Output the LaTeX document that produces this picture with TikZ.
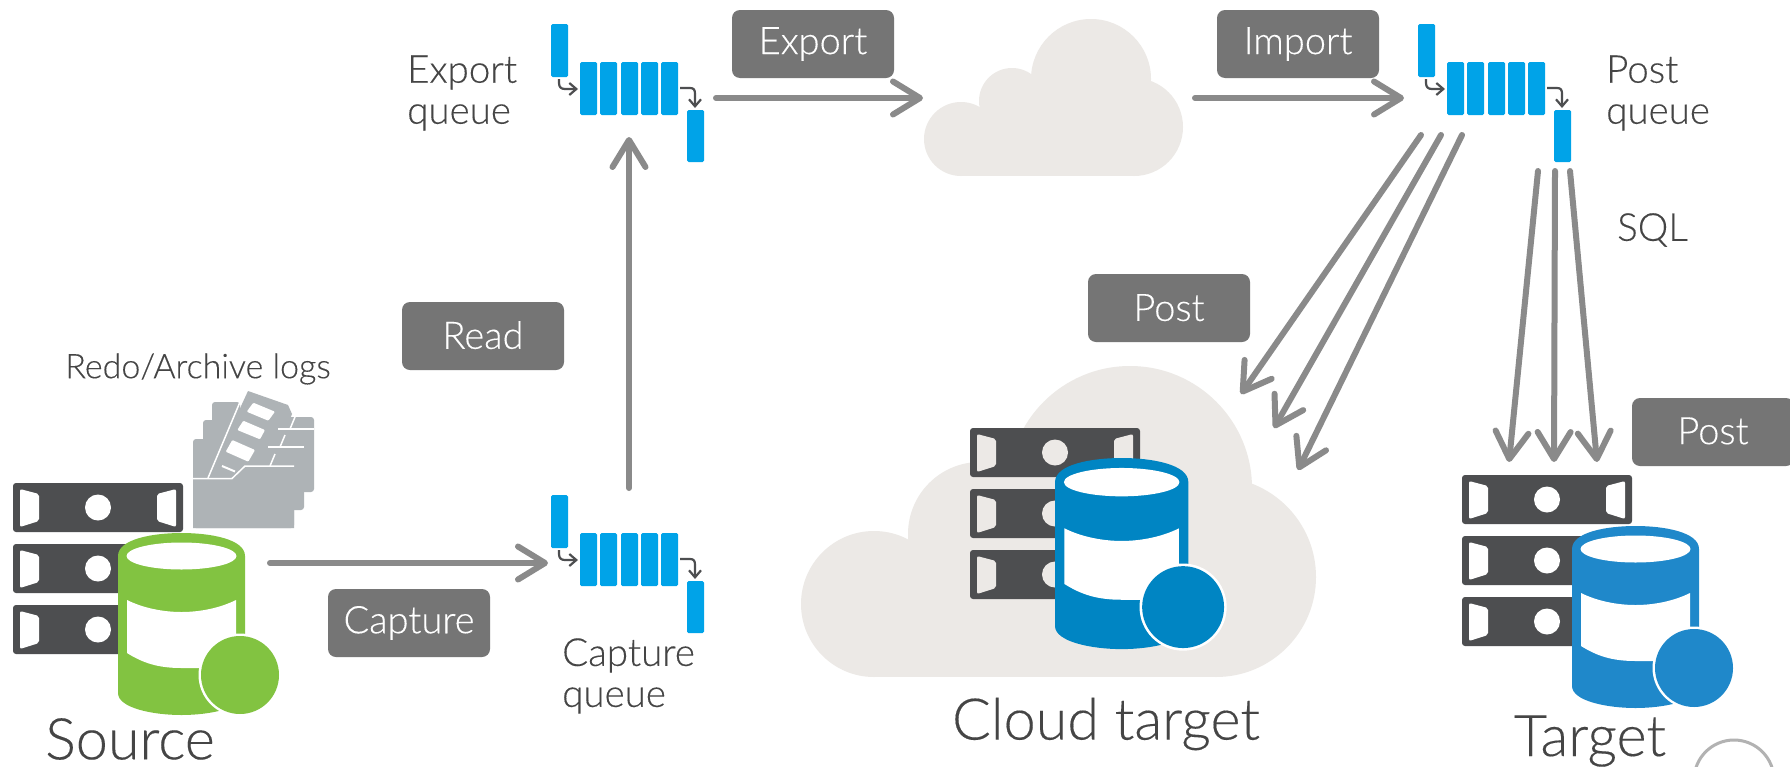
\documentclass[tikz,border=0pt]{standalone}
\usepackage{fontspec}
\setmainfont{Lato}[UprightFont=* Light,UprightFeatures={FakeBold=0.25}]
\usetikzlibrary{arrows.meta}
\definecolor{rackgrey}{HTML}{4D4E50}
\definecolor{flowgrey}{HTML}{8A8A8A}
\definecolor{boxgrey}{HTML}{757575}
\definecolor{cloudc}{HTML}{ECE9E6}
\definecolor{queuec}{HTML}{00A3E8}
\definecolor{folderc}{HTML}{AEB3B6}
\definecolor{srcgreen}{HTML}{82C341}
\definecolor{cldblue}{HTML}{0085C3}
\definecolor{tgtblue}{HTML}{1F88CA}
\definecolor{textc}{HTML}{454545}
\tikzset{
  flow/.style={draw=flowgrey,line width=6pt,line cap=round,-{Straight Barb[length=27pt,width=33pt,round]}},
  tag/.style={fill=boxgrey,text=white,rounded corners=8pt,minimum width=162pt,minimum height=68pt,inner sep=0pt,font=\fontsize{38}{40}\selectfont},
  note/.style={text=textc,inner sep=0pt,font=\fontsize{38.5}{41}\selectfont,align=left,anchor=west},
  big/.style={text=textc,inner sep=0pt,font=\fontsize{57.5}{64}\selectfont},
  qbar/.style={fill=queuec,rounded corners=1.5pt},
  qarrow/.style={draw=rackgrey,line width=2.2pt,-{Straight Barb[length=7pt,width=12pt]}},
  foldline/.style={draw=white,line width=1.5pt}
}
\newcommand\rackicon[3]{%
  \begin{scope}[shift={(#1,#2)}]
    \fill[rackgrey,rounded corners=3pt] (0,0) rectangle (170,49);
    \fill[#3,rounded corners=2pt] (7,6)--(26,11)--(26,38)--(7,44)--cycle;
    \fill[#3,rounded corners=2pt] (163,6)--(144,11)--(144,38)--(163,44)--cycle;
    \fill[#3] (85,24.5) circle[radius=13];
  \end{scope}}
\newcommand\dbicon[4]{%
  \begin{scope}[shift={(#1,#2)},scale=#3]
    \fill[#4] (0,23) .. controls (0,6) and (35,0) .. (63.5,0) .. controls (92,0) and (127,6) .. (127,23)
      -- (127,160) .. controls (127,175) and (92,182) .. (63.5,182) .. controls (35,182) and (0,175) .. (0,160) -- cycle;
    \fill[white] (63.5,23) ellipse[x radius=55,y radius=13.5];
    \fill[white] (9,67) .. controls (25,75) and (45,79) .. (63.5,79) .. controls (82,79) and (102,75) .. (118,67)
      -- (118,135) -- (63.5,135) .. controls (40,135) and (25,130) .. (9,120) -- cycle;
    \fill[white] (122,142) circle[radius=41.5];
    \fill[#4] (122,142) circle[radius=39];
  \end{scope}}
% #1 = cx/cy/r list of the lobes, #2 = inner box corner, #3 = opposite corner
\newcommand\cloudicon[3]{%
  \foreach \cx/\cy/\cr in {#1} \fill[cloudc] (\cx,\cy) circle[radius=\cr];
  \fill[cloudc] #2 rectangle #3;}
\newcommand\queueicon[2]{%
  \begin{scope}[shift={(#1,#2)}]
    \fill[qbar] (0,0) rectangle (17,53);
    \fill[qbar] (29,38) rectangle (46,91);
    \fill[qbar] (49,38) rectangle (66,91);
    \fill[qbar] (70,38) rectangle (87,91);
    \fill[qbar] (90,38) rectangle (107,91);
    \fill[qbar] (110,38) rectangle (127,91);
    \fill[qbar] (136,86) rectangle (153,138);
    \draw[qarrow] (8,55) -- (8,59) .. controls (8,63) and (10,65) .. (14,65) -- (27,65);
    \draw[qarrow] (129,64) -- (139,64) .. controls (143,64) and (144,66) .. (144,70) -- (144,84);
  \end{scope}}
\begin{document}
\begin{tikzpicture}[x=1pt,y=-1pt]
\useasboundingbox (0,0) rectangle (1790,766);
\clip (0,0) rectangle (1790,766);
\fill[white] (0,0) rectangle (1790,766);

% clouds
\cloudicon{961/139/37,1012/101/33,1091/79/60,1134/127/49}{(961,125)}{(1134,176)}
\fill[cloudc] (1012,85) rectangle (1130,130);
\cloudicon{874/604/73,980/534/72,1130/488/122,1216/577/100}{(874,580)}{(1216,677)}
\fill[cloudc] (980,500) rectangle (1216,600);

% queues
\queueicon{551}{24}
\queueicon{1418}{24}
\queueicon{551}{495}

% folder
\begin{scope}
  \fill[folderc,rounded corners=3pt] (212,402) -- (240,402) -- (240,417) -- (314,417) -- (314,492) -- (212,492) -- cycle;
  \fill[folderc,rounded corners=3pt] (203,420) -- (230,420) -- (230,435) -- (304,435) -- (304,510) -- (203,510) -- cycle;
  \fill[folderc,rounded corners=3pt] (193,439) -- (220,439) -- (220,455) -- (294,455) -- (294,528) -- (193,528) -- cycle;
  \fill[folderc] (248,391) -- (288,405) -- (292,414) -- (270,470) -- (207,480) -- cycle;
  \draw[foldline] (240,402) -- (208,478);
  \draw[foldline] (295,417) -- (290,429);
  \draw[foldline] (278,429) -- (314,429);
  \draw[foldline] (285,435) -- (280,447);
  \draw[foldline] (268,447) -- (304,447);
  \draw[foldline] (275,454) -- (270,466);
  \fill[folderc] (193,480) -- (232,480) -- (245,467) -- (294,467) -- (294,528) -- (193,528) -- cycle;
  \draw[foldline] (193,478.5) -- (232,478.5) -- (245,466) -- (294,466);
  \fill[white,rounded corners=1pt] (246.7,411.7) -- (253.3,402.7) -- (275,411.7) -- (268.3,420.7) -- cycle;
  \fill[white,rounded corners=1pt] (237.3,430) -- (243.3,420.7) -- (265,430) -- (260,439.3) -- cycle;
  \fill[white,rounded corners=1pt] (225.7,451.7) -- (232.3,440) -- (255,450) -- (248.3,461.7) -- cycle;
  \draw[white,line width=2pt] (222,466) -- (235,471.5);
\end{scope}

% servers and databases
\rackicon{13}{483}{white}
\rackicon{13}{544}{white}
\rackicon{13}{605}{white}
\dbicon{118}{533}{1}{srcgreen}
\rackicon{970}{428}{cloudc}
\rackicon{970}{489}{cloudc}
\rackicon{970}{550}{cloudc}
\dbicon{1055}{458}{1.05}{cldblue}
\rackicon{1462}{475}{white}
\rackicon{1462}{536}{white}
\rackicon{1462}{597}{white}
\dbicon{1572}{526}{1}{tgtblue}

% connector ends
\coordinate (srcOut) at (270,563);
\coordinate (capIn) at (548,563);
\coordinate (capOut) at (629,488);
\coordinate (expIn) at (629,137);
\coordinate (expOut) at (716,98);
\coordinate (cloudIn) at (923,98);
\coordinate (cloudOut) at (1195,98);
\coordinate (postIn) at (1404,98);
\coordinate (dA) at (1421,135);
\coordinate (dB) at (1441,135);
\coordinate (dC) at (1462,135);
\coordinate (cA) at (1241,394);
\coordinate (cB) at (1274,428);
\coordinate (cC) at (1298,470);
\coordinate (sA) at (1538,171);
\coordinate (sB) at (1555,171);
\coordinate (sC) at (1570,171);
\coordinate (tA) at (1509,462);
\coordinate (tB) at (1554,462);
\coordinate (tC) at (1597,462);

\draw[flow] (srcOut) -- (capIn);
\draw[flow] (capOut) -- (expIn);
\draw[flow] (expOut) -- (cloudIn);
\draw[flow] (cloudOut) -- (postIn);
\draw[flow] (dA) -- (cA);
\draw[flow] (dB) -- (cB);
\draw[flow] (dC) -- (cC);
\draw[flow] (sA) -- (tA);
\draw[flow] (sB) -- (tB);
\draw[flow] (sC) -- (tC);

% tags
\node[tag] (tagExport) at (813,44) {Export};
\node[tag] (tagImport) at (1298,44) {Import};
\node[tag] (tagRead) at (483,336) {\raisebox{2pt}{Read}};
\node[tag] (tagCapture) at (409,623) {\raisebox{-1pt}{Capture}};
\node[tag] (tagPost) at (1169,308) {\raisebox{1pt}{Post}};
\node[tag] (tagPostB) at (1713,432) {\raisebox{2.5pt}{Post}};

% notes
\node[note] (nExport) at (407,93) {Export\\queue};
\node[note] (nPost) at (1606,93) {Post\\queue};
\node[note] (nCapture) at (562,676) {Capture\\queue};
\node[note] (nSql) at (1617,230) {SQL};
\node[text=textc,inner sep=0pt,font=\fontsize{34}{36}\selectfont] (nLogs) at (198,369) {Redo/Archive logs};
\node[big] (nSource) at (130,739) {Source};
\node[big] (nCloud) at (1106,724) {Cloud target};
\node[big] (nTarget) at (1590,741) {Target};

\draw[draw=black!30,line width=3pt] (1734,780) circle[radius=40];
\end{tikzpicture}
\end{document}
